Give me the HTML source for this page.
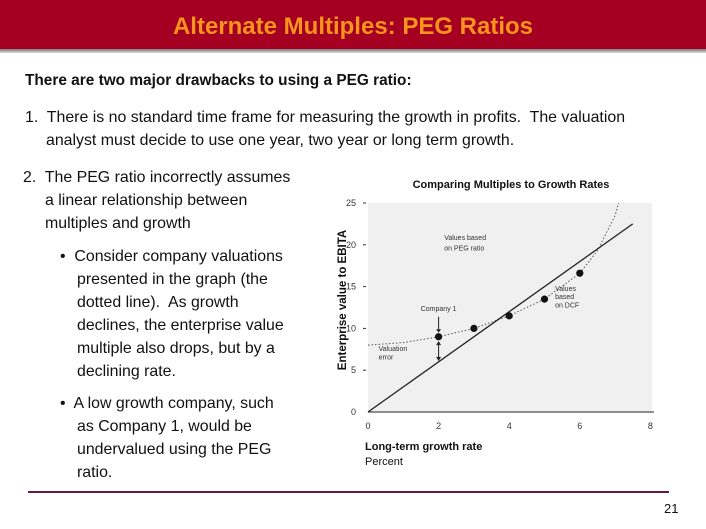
<!DOCTYPE html>
<html><head><meta charset="utf-8"><style>
body{margin:0;width:706px;height:529px;overflow:hidden;background:#fff;font-family:"Liberation Sans",Arial,sans-serif;position:relative}
.t{position:absolute;white-space:nowrap;font-size:15.9px;color:#111;line-height:18px}
</style></head><body>
<div style="position:absolute;left:0;top:0;width:706px;height:49px;background:#a50021"></div>
<div style="position:absolute;left:0;top:49px;width:706px;height:4px;background:linear-gradient(#777,#ddd)"></div>
<div class="t" style="left:0;width:706px;text-align:center;top:14px;font-size:24px;line-height:26px;font-weight:bold;color:#f7941d">Alternate Multiples: PEG Ratios</div>
<div class="t" style="left:25px;top:72px;font-weight:bold;font-size:15.4px">There are two major drawbacks to using a PEG ratio:</div>
<div class="t" style="left:25px;top:109px">1.&nbsp; There is no standard time frame for measuring the growth in profits.&nbsp; The valuation</div>
<div class="t" style="left:46px;top:132px">analyst must decide to use one year, two year or long term growth.</div>
<div class="t" style="left:23px;top:169px">2.&nbsp; The PEG ratio incorrectly assumes</div>
<div class="t" style="left:45px;top:192px">a linear relationship between</div>
<div class="t" style="left:45px;top:215px">multiples and growth</div>
<div class="t" style="left:60px;top:248px">•&nbsp; Consider company valuations</div>
<div class="t" style="left:77px;top:271px">presented in the graph (the</div>
<div class="t" style="left:77px;top:294px">dotted line).&nbsp; As growth</div>
<div class="t" style="left:77px;top:317px">declines, the enterprise value</div>
<div class="t" style="left:77px;top:340px">multiple also drops, but by a</div>
<div class="t" style="left:77px;top:363px">declining rate.</div>
<div class="t" style="left:60px;top:395px">•&nbsp; A low growth company, such</div>
<div class="t" style="left:77px;top:418px">as Company 1, would be</div>
<div class="t" style="left:77px;top:441px">undervalued using the PEG</div>
<div class="t" style="left:77px;top:464px">ratio.</div>
<div style="position:absolute;left:28px;top:491px;width:641px;height:2px;background:#6b1a33"></div>
<div class="t" style="left:664px;top:500px;font-size:13px">21</div>

<svg id="chart" width="706" height="529" style="position:absolute;left:0;top:0" font-family="Liberation Sans, Arial, sans-serif">
<text x="511" y="188" text-anchor="middle" font-size="11" font-weight="bold" fill="#111">Comparing Multiples to Growth Rates</text>
<text transform="translate(346,300) rotate(-90)" text-anchor="middle" font-size="11.5" font-weight="bold" fill="#111">Enterprise value to EBITA</text>
<text x="365" y="450" font-size="11" font-weight="bold" fill="#111">Long-term growth rate</text>
<text x="365" y="465" font-size="11" fill="#111">Percent</text>
<g id="g"></g>
</svg>
<script>
const xTicks=[0,2,4,6,8];
const yTicks=[0,5,10,15,20,25];
const pegX=[0,7.5];
const pegY=[0,22.5];
const dcfX=[2,3,4,5,6];
const dcfY=[9,10,11.5,13.5,16.6];
const curveX=[0,1,2,3,4,5,6,6.5,7,7.1];
const curveY=[8,8.3,9,10,11.5,13.5,16.6,19.3,23.5,25];
const X0=368,X1=652,Y0=412,Y1=203;
const sx=v=>X0+v*35.3, sy=v=>Y0-(v/25)*(Y0-Y1);
const g=document.getElementById('g'),NS='http://www.w3.org/2000/svg';
function mk(t,a,p){const e=document.createElementNS(NS,t);for(const k in a)e.setAttribute(k,a[k]);(p||g).appendChild(e);return e;}
const bg=mk('rect',{x:X0,y:Y1,width:X1-X0,height:Y0-Y1,fill:'#f0f0f0'});


const ax=mk('line',{x1:X0,y1:Y0,x2:X1+2,y2:Y0,stroke:'#222','stroke-width':1});


xTicks.forEach(v=>{const t=mk('text',{x:sx(v),y:Y0+17,'text-anchor':'middle','font-size':9,fill:'#333'});t.textContent=v;

});
yTicks.forEach(v=>{const t=mk('text',{x:X0-12,y:sy(v)+3,'text-anchor':'end','font-size':9,fill:'#333'});t.textContent=v;


if(v>0){const l=mk('line',{x1:X0-5,y1:sy(v),x2:X0-2,y2:sy(v),stroke:'#333'});

}});
const cv=mk('polyline',{points:curveX.map((x,i)=>sx(x)+','+sy(curveY[i])).join(' '),fill:'none',stroke:'#555','stroke-width':1,'stroke-dasharray':'1.5,2'});


const pl=mk('line',{x1:sx(pegX[0]),y1:sy(pegY[0]),x2:sx(pegX[1]),y2:sy(pegY[1]),stroke:'#222','stroke-width':1.3});


dcfX.forEach((x,i)=>{const c=mk('circle',{cx:sx(x),cy:sy(dcfY[i]),r:3.6,fill:'#111'});

});
const ex=sx(2);
mk('line',{x1:ex,y1:sy(11.4),x2:ex,y2:sy(9.6),stroke:'#222'});
mk('path',{d:`M${ex-2.5},${sy(9.9)}L${ex+2.5},${sy(9.9)}L${ex},${sy(9.5)}Z`,fill:'#222'});
mk('line',{x1:ex,y1:sy(8.3),x2:ex,y2:sy(6.2),stroke:'#222'});
mk('path',{d:`M${ex-2.5},${sy(8)}L${ex+2.5},${sy(8)}L${ex},${sy(8.5)}Z`,fill:'#222'});
mk('path',{d:`M${ex-2.5},${sy(6.6)}L${ex+2.5},${sy(6.6)}L${ex},${sy(6.1)}Z`,fill:'#222'});
const anns=[[ex,sy(12.1),'Company 1','middle'],[sx(2.3)-5,sy(20.6),'Values based','start'],[sx(2.3)-5,sy(19.3),'on PEG ratio','start'],
[sx(5.3),sy(14.5),'Values','start'],[sx(5.3),sy(13.5),'based','start'],[sx(5.3),sy(12.5),'on DCF','start'],
[sx(0.3),sy(7.3),'Valuation','start'],[sx(0.3),sy(6.3),'error','start']];
anns.forEach(a=>{const t=mk('text',{x:a[0],y:a[1],'text-anchor':a[3],'font-size':7,fill:'#333'});t.textContent=a[2];

});
</script>
</body></html>
